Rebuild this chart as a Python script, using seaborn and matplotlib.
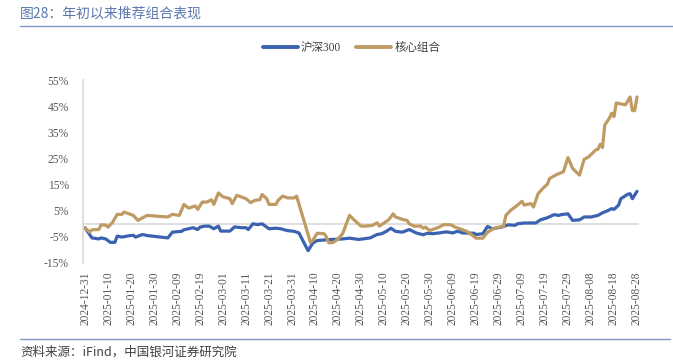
import pandas as pd
import numpy as np
import matplotlib
matplotlib.use("Agg")
import matplotlib.pyplot as plt
import matplotlib.dates as mdates
from matplotlib.lines import Line2D
from matplotlib.ticker import FuncFormatter, MultipleLocator
import seaborn as sns

# ---------------- data ----------------
hs300_dates = ["2024-12-31","2025-01-03","2025-01-06","2025-01-07","2025-01-09","2025-01-11","2025-01-13",
    "2025-01-14","2025-01-16","2025-01-19","2025-01-21","2025-01-22","2025-01-25","2025-01-27","2025-02-05",
    "2025-02-07","2025-02-11","2025-02-12","2025-02-14","2025-02-16","2025-02-18","2025-02-19","2025-02-21",
    "2025-02-23","2025-02-25","2025-02-27","2025-02-28","2025-03-04","2025-03-06","2025-03-09","2025-03-11",
    "2025-03-12","2025-03-14","2025-03-16","2025-03-18","2025-03-21","2025-03-24","2025-03-26","2025-03-29",
    "2025-04-01","2025-04-03","2025-04-07","2025-04-09","2025-04-11","2025-04-17","2025-04-22","2025-04-25",
    "2025-04-29","2025-05-04","2025-05-07","2025-05-09","2025-05-11","2025-05-13","2025-05-15","2025-05-18",
    "2025-05-21","2025-05-24","2025-05-27","2025-05-29","2025-05-31","2025-06-03","2025-06-06","2025-06-09",
    "2025-06-11","2025-06-13","2025-06-18","2025-06-19","2025-06-22","2025-06-24","2025-06-26","2025-06-30",
    "2025-07-03","2025-07-06","2025-07-07","2025-07-10","2025-07-15","2025-07-17","2025-07-20","2025-07-23",
    "2025-07-25","2025-07-26","2025-07-29","2025-07-31","2025-08-03","2025-08-05","2025-08-08","2025-08-11",
    "2025-08-13","2025-08-15","2025-08-17","2025-08-18","2025-08-20","2025-08-21","2025-08-24","2025-08-25",
    "2025-08-26","2025-08-28"]
hs300_values = [-1.5,-5.4,-5.8,-5.4,-5.8,-7.1,-7.1,
    -4.7,-5.1,-4.6,-4.4,-5.1,-4.1,-4.5,-5.4,
    -3.2,-2.9,-2.3,-1.9,-1.5,-2.2,-1.3,-0.9,
    -0.9,-1.9,-0.9,-2.8,-2.8,-1.2,-1.5,-1.5,
    -2.2,0.0,-0.3,0.0,-1.9,-1.7,-1.9,-2.6,
    -2.9,-3.5,-10.3,-7.4,-6.4,-6.0,-5.8,-5.5,
    -6.0,-5.4,-4.1,-3.8,-2.9,-1.7,-2.9,-3.2,
    -2.2,-3.5,-4.2,-3.6,-3.8,-3.5,-3.1,-3.5,
    -2.8,-3.5,-3.6,-4.1,-3.8,-1.0,-1.9,-1.3,
    -0.4,-0.6,0.0,0.3,0.3,1.5,2.3,3.5,
    3.2,3.5,3.8,1.3,1.5,2.6,2.6,3.2,
    4.2,4.9,5.8,5.5,7.1,9.6,11.3,11.5,
    9.6,12.4]

core_dates = ["2024-12-31","2025-01-02","2025-01-03","2025-01-06","2025-01-07","2025-01-09","2025-01-10",
    "2025-01-12","2025-01-14","2025-01-16","2025-01-17","2025-01-21","2025-01-23","2025-01-27","2025-02-05",
    "2025-02-07","2025-02-10","2025-02-12","2025-02-14","2025-02-17","2025-02-18","2025-02-20","2025-02-22",
    "2025-02-24","2025-02-25","2025-02-27","2025-03-01","2025-03-04","2025-03-05","2025-03-07","2025-03-11",
    "2025-03-13","2025-03-15","2025-03-17","2025-03-18","2025-03-20","2025-03-21","2025-03-24","2025-03-25",
    "2025-03-27","2025-03-29","2025-04-01","2025-04-02","2025-04-08","2025-04-09","2025-04-11","2025-04-14",
    "2025-04-15","2025-04-16","2025-04-18","2025-04-20","2025-04-22","2025-04-23","2025-04-25","2025-04-27",
    "2025-04-30","2025-05-02","2025-05-05","2025-05-07","2025-05-08","2025-05-11","2025-05-12","2025-05-14",
    "2025-05-15","2025-05-18","2025-05-20","2025-05-21","2025-05-23","2025-05-26","2025-05-27","2025-05-28",
    "2025-05-30","2025-06-01","2025-06-03","2025-06-05","2025-06-08","2025-06-10","2025-06-12","2025-06-15",
    "2025-06-17","2025-06-19","2025-06-22","2025-06-24","2025-06-27","2025-07-01","2025-07-02","2025-07-04",
    "2025-07-07","2025-07-09","2025-07-10","2025-07-11","2025-07-13","2025-07-14","2025-07-16","2025-07-18",
    "2025-07-20","2025-07-21","2025-07-24","2025-07-27","2025-07-29","2025-07-31","2025-08-03","2025-08-05",
    "2025-08-07","2025-08-10","2025-08-11","2025-08-12","2025-08-13","2025-08-14","2025-08-16","2025-08-17",
    "2025-08-18","2025-08-19","2025-08-23","2025-08-25","2025-08-26","2025-08-27","2025-08-28"]
core_values = [-1.5,-3.2,-2.3,-2.2,-0.4,-0.5,-1.3,
    0.6,3.6,3.6,4.5,3.2,1.3,3.2,2.6,
    3.6,3.2,7.4,6.0,6.8,5.5,8.3,8.3,
    9.2,7.4,11.8,10.3,9.6,7.7,10.9,9.6,
    8.1,9.0,9.2,11.2,9.6,7.4,7.4,9.0,
    10.6,9.9,9.9,10.6,-7.1,-6.4,-3.6,-3.8,
    -5.1,-7.3,-7.1,-5.8,-3.8,-1.5,3.2,1.5,
    -0.9,-0.9,-0.6,0.4,-0.9,0.9,1.5,3.8,
    2.6,1.7,1.3,0.0,-0.9,-0.9,-1.7,-1.3,
    -2.6,-1.9,-1.3,-0.3,-0.4,-1.3,-1.9,-2.9,
    -4.1,-5.5,-5.5,-3.2,-1.7,-0.9,3.2,5.1,
    7.1,8.6,7.1,7.4,7.7,6.4,11.5,13.5,
    15.1,17.3,18.8,19.9,25.3,21.2,18.6,24.6,
    25.6,28.2,28.5,30.4,29.2,37.8,40.4,42.3,
    41.0,46.2,45.5,48.5,43.3,43.3,48.5]

series_names = ["沪深300", "核心组合"]
series_colors = ["#3B62B0", "#BF9B63"]
y_ticks = [-15, -5, 5, 15, 25, 35, 45, 55]
x_start, x_end = "2024-12-31", "2025-08-28"

# ---------------- frame ----------------
df = pd.concat([
    pd.DataFrame({"date": pd.to_datetime(hs300_dates), "value": hs300_values, "series": series_names[0]}),
    pd.DataFrame({"date": pd.to_datetime(core_dates), "value": core_values, "series": series_names[1]}),
], ignore_index=True)

sns.set_theme(style="white")
cjk = ["Noto Sans CJK SC", "DejaVu Sans"]
serif = ["Liberation Serif", "Noto Sans CJK SC", "DejaVu Sans"]
plt.rcParams["font.family"] = serif

fig = plt.figure(figsize=(6.73, 3.63), dpi=100)
ax = fig.add_axes([0.1229, 0.2755, 0.8270, 0.5041])

sns.lineplot(data=df, x="date", y="value", hue="series", hue_order=series_names,
             palette=series_colors, linewidth=2.3, estimator=None, ax=ax, legend=False)

ax.axhline(0, color="#D9D9D9", lw=1.2, zorder=0)
ax.set_ylim(-15, 55)
d0 = pd.Timestamp(x_start); d1 = pd.Timestamp(x_end)
ax.set_xlim(d0 - pd.Timedelta(days=1), d1 + pd.Timedelta(days=1))
ax.set_yticks(y_ticks)
ax.yaxis.set_major_formatter(FuncFormatter(lambda v, p: f"{v:.0f}%"))
ticks = pd.date_range(d0, d1, freq="10D")
ax.set_xticks(ticks)
ax.set_xticklabels([t.strftime("%Y-%m-%d") for t in ticks], rotation=90)
ax.tick_params(axis="both", length=0, labelsize=8.3, colors="#595959")
ax.tick_params(axis="x", pad=6)
ax.tick_params(axis="y", pad=10)
ax.set_xlabel(""); ax.set_ylabel("")
for s in ["top", "right", "bottom"]:
    ax.spines[s].set_visible(False)
ax.spines["left"].set_color("#D9D9D9")
ax.spines["left"].set_linewidth(1.2)
ax.grid(False)

# legend
handles = [Line2D([0], [0], color=c, lw=2.8) for c in series_colors]
fig.legend(handles, series_names, loc="center", bbox_to_anchor=(0.5226, 0.868), ncol=2,
           frameon=False, handlelength=3.0, columnspacing=1.3, handletextpad=0.3,
           prop={"family": serif, "size": 8.3}, labelcolor="#404040")

# title and rules
fig.text(20/673, 1 - 14/363, "图28：年初以来推荐组合表现", family=cjk, fontsize=10,
         color="#5A77AE", va="center", ha="left")
fig.add_artist(Line2D([20/673, 1.0], [1 - 26/363, 1 - 26/363], color="#7F98C6", lw=1.0))
fig.add_artist(Line2D([20/673, 670/673], [1 - 339/363, 1 - 339/363], color="#7F98C6", lw=1.0))
fig.text(20/673, 1 - 352/363, "资料来源：iFind，中国银河证券研究院", family=cjk, fontsize=9,
         color="#404040", va="center", ha="left", style="italic")

fig.savefig("out.png", dpi=100)
